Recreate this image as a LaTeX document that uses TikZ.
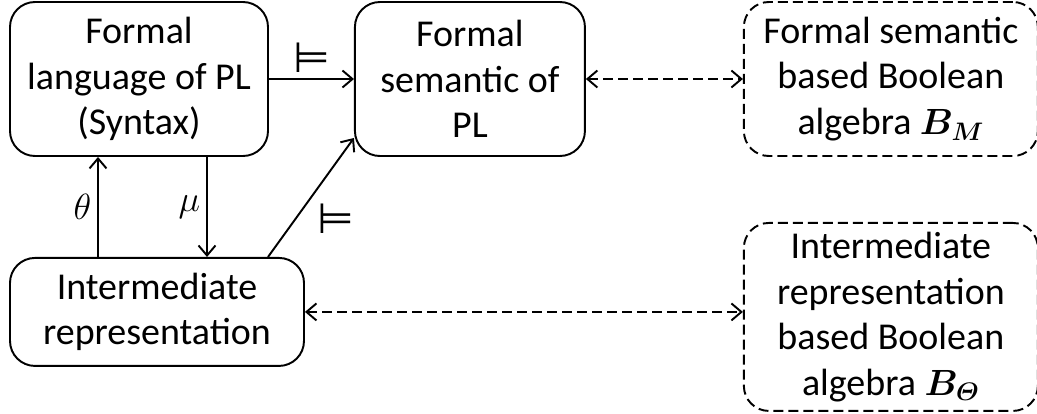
\documentclass[tikz,border=0pt]{standalone}
\usepackage{fontspec}
\setmainfont{Carlito}
\newfontfamily\symfont{DejaVu Sans}
\usepackage{amsmath}
\usepackage{bm}
\usetikzlibrary{arrows.meta, positioning, calc}

\begin{document}
\begin{tikzpicture}[
    node distance=1.7cm,
    font=\fontsize{21.6}{26}\selectfont,
    solidbox/.style={rectangle, rounded corners=0.5cm, draw, line width=1.1pt, align=center, minimum width=5.16cm, minimum height=3.08cm, inner sep=0pt},
    dashbox/.style={solidbox, dash pattern=on 0.2cm off 0.1cm, minimum width=5.88cm},
    arrow/.style={-{Straight Barb[length=0.2cm, width=0.34cm]}, line width=1.1pt},
    dasharrow/.style={{Straight Barb[length=0.2cm, width=0.34cm]}-{Straight Barb[length=0.2cm, width=0.34cm]}, line width=1.1pt, dash pattern=on 0.2cm off 0.1cm},
    models/.style={font=\symfont\fontsize{24}{26}\selectfont, inner sep=3pt}
]
\useasboundingbox (0,0) rectangle (20.74,-8.28);

% Top row
\node[solidbox] (syntax) at (2.78,-1.58) {Formal\\language of PL\\(Syntax)};
\node[solidbox, minimum width=4.6cm, right=1.7cm of syntax] (semantic) {Formal\\semantic of\\PL};
\node[dashbox, right=3.14cm of semantic] (algM) {Formal semantic\\based Boolean\\algebra $\bm{B}_{\bm{M}}$};

% Bottom row
\node[solidbox, minimum width=5.88cm, minimum height=2.16cm, below=2cm of syntax.south west, anchor=north west] (inter) {Intermediate\\representation};
\node[dashbox, minimum height=3.76cm, below=1.3cm of algM] (algT) {Intermediate\\representation\\based Boolean\\algebra $\bm{B}_{\bm{\varTheta}}$};

% Arrows
\draw[arrow] (syntax) -- node[above, models] {⊨} (semantic);
\draw[dasharrow] (semantic) -- (algM);
\draw[arrow] ($(syntax.south)+(1.36,0)$) -- node[left] {$\mu$} ($(inter.north)+(1.0,0)$);
\draw[arrow] ($(inter.north)+(-1.18,0)$) -- node[left] {$\theta$} ($(syntax.south)+(-0.82,0)$);
\draw[arrow] ($(inter.north)+(2.22,0)$) -- node[below right, models] {⊨} ($(semantic.south west)+(0,0.38)$);
\draw[dasharrow] (inter.east) -- (inter.east -| algT.west);

\end{tikzpicture}
\end{document}
